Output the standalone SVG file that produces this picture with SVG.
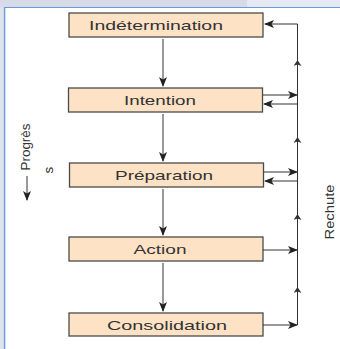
<svg xmlns="http://www.w3.org/2000/svg" width="340" height="349" viewBox="0 0 340 349">
<style>
.box{fill:#fde2c6;stroke:#4a4a4a;stroke-width:1.3}
.lbl{font-family:"Liberation Sans",Arial,sans-serif;font-size:13.5px;fill:#333;text-anchor:middle}
.side{font-family:"Liberation Sans",Arial,sans-serif;font-size:13.5px;fill:#333;text-anchor:middle}
.ln{stroke:#333;stroke-width:1;fill:none}
.arr{stroke:#333;stroke-width:1;fill:none;marker-end:url(#ah)}
</style>
<defs>
<marker id="ah" viewBox="0 0 10 8" refX="9" refY="4" markerWidth="10" markerHeight="8" markerUnits="userSpaceOnUse" orient="auto">
<path d="M0,0 L10,4 L0,8 L2.5,4 z" fill="#222"/>
</marker>
<marker id="tick" viewBox="0 0 6 8" refX="3" refY="4" markerWidth="6" markerHeight="8" markerUnits="userSpaceOnUse" orient="auto">
<path d="M0,0 L6,4 L0,8 L1.5,4 z" fill="#333"/>
</marker>
</defs>
<rect x="0" y="0" width="247" height="7" fill="#d6dbe7"/>
<rect x="247" y="0" width="93" height="7" fill="#e5e9f3"/>
<rect x="0" y="7" width="4" height="342" fill="#dde3ef"/>
<line x1="4" y1="7.5" x2="340" y2="7.5" stroke="#6d9ad6" stroke-width="1.2"/>
<line x1="4.6" y1="7" x2="4.6" y2="349" stroke="#6d9ad6" stroke-width="1.4"/>

<g id="n-indetermination"><rect class="box" x="69" y="13" width="194" height="24"/><text class="lbl" x="156" y="30" textLength="134" lengthAdjust="spacingAndGlyphs">Indétermination</text></g>
<g id="n-intention"><rect class="box" x="68.5" y="88" width="194" height="24"/><text class="lbl" x="160" y="105" textLength="72" lengthAdjust="spacingAndGlyphs">Intention</text></g>
<g id="n-preparation"><rect class="box" x="69.5" y="163" width="194" height="24"/><text class="lbl" x="164" y="180" textLength="98" lengthAdjust="spacingAndGlyphs">Préparation</text></g>
<g id="n-action"><rect class="box" x="69" y="237" width="194" height="24"/><text class="lbl" x="160" y="254" textLength="53" lengthAdjust="spacingAndGlyphs">Action</text></g>
<g id="n-consolidation"><rect class="box" x="69" y="313" width="194" height="23"/><text class="lbl" x="167" y="330" textLength="120" lengthAdjust="spacingAndGlyphs">Consolidation</text></g>

<g id="connectors">
<line class="arr" x1="163" y1="39" x2="163" y2="86"/>
<line class="arr" x1="163" y1="114" x2="163" y2="161"/>
<line class="arr" x1="163" y1="189" x2="163" y2="235"/>
<line class="arr" x1="163" y1="263" x2="163" y2="311"/>
<path class="ln" d="M297.5,325 V24 H265" stroke-width="1.6" marker-end="url(#ah)"/>
<path class="ln" d="M297.5,300 V290" marker-end="url(#tick)"/>
<path class="ln" d="M297.5,225 V217" marker-end="url(#tick)"/>
<path class="ln" d="M297.5,148 V140" marker-end="url(#tick)"/>
<path class="ln" d="M297.5,71 V63" marker-end="url(#tick)"/>
<line class="arr" x1="263" y1="95" x2="297" y2="95"/>
<line class="arr" x1="297" y1="104" x2="264" y2="104"/>
<line class="arr" x1="264" y1="172" x2="297" y2="172"/>
<line class="arr" x1="297" y1="181" x2="265" y2="181"/>
<line class="arr" x1="263" y1="250" x2="297" y2="250"/>
<line class="arr" x1="263" y1="325" x2="297" y2="325"/>
<line class="arr" x1="27" y1="176" x2="27" y2="200"/>
</g>
<text class="side" transform="translate(30,147) rotate(-90)" textLength="47" lengthAdjust="spacingAndGlyphs">Progrès</text>
<text class="side" transform="translate(53,170) rotate(-90)">s</text>
<text class="side" transform="translate(334,212) rotate(-90)" textLength="55" lengthAdjust="spacingAndGlyphs">Rechute</text>
</svg>
